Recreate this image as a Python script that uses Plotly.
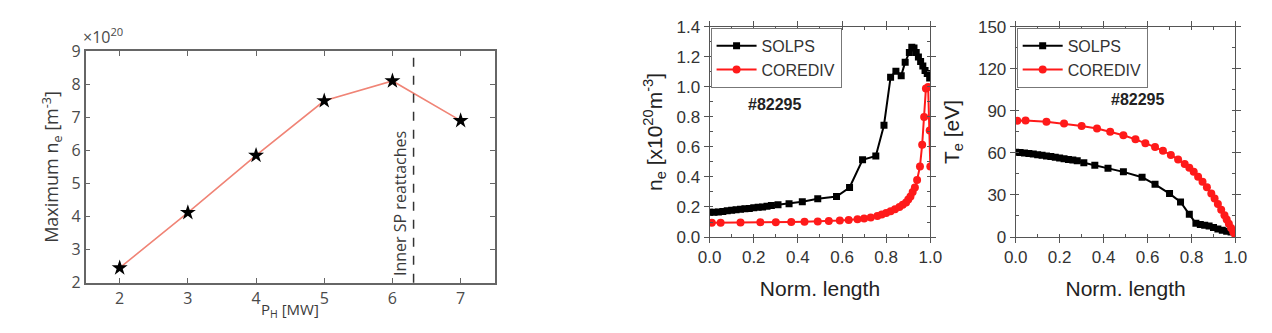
import plotly.graph_objects as go

# ---------------- data ----------------
# Left panel: maximum n_e vs heating power
ph_mw = [2, 3, 4, 5, 6, 7]
max_ne = [2.45, 4.12, 5.85, 7.5, 8.1, 6.9]
reattach_x = 6.31

# Middle panel: n_e along divertor leg
solps_ne_x = [0.0, 0.02, 0.04, 0.06, 0.08, 0.10, 0.12, 0.14, 0.16, 0.18, 0.20, 0.22,
              0.24, 0.26, 0.28, 0.31, 0.36, 0.42, 0.49, 0.575, 0.634, 0.693, 0.753,
              0.79, 0.82, 0.844, 0.868, 0.886, 0.905, 0.916, 0.926, 0.936, 0.946,
              0.956, 0.966, 0.976, 0.986, 0.997]
solps_ne_y = [0.165, 0.165, 0.167, 0.17, 0.175, 0.178, 0.182, 0.185, 0.188, 0.19, 0.195,
              0.198, 0.2, 0.205, 0.21, 0.215, 0.222, 0.235, 0.255, 0.27, 0.33, 0.515,
              0.54, 0.745, 1.065, 1.105, 1.075, 1.165, 1.23, 1.265, 1.26, 1.23, 1.2,
              1.17, 1.14, 1.11, 1.09, 1.06]
corediv_ne_x = [0.01, 0.05, 0.14, 0.23, 0.30, 0.37, 0.43, 0.49, 0.54, 0.59, 0.63, 0.67,
                0.70, 0.73, 0.76, 0.78, 0.80, 0.82, 0.84, 0.86, 0.875, 0.89, 0.90, 0.91,
                0.92, 0.93, 0.94, 0.953, 0.963, 0.972, 0.98, 0.99, 0.997, 1.0]
corediv_ne_y = [0.095, 0.095, 0.097, 0.098, 0.099, 0.1, 0.102, 0.104, 0.107, 0.11, 0.114,
                0.118, 0.124, 0.13, 0.14, 0.15, 0.16, 0.172, 0.185, 0.2, 0.215, 0.23,
                0.25, 0.27, 0.3, 0.33, 0.38, 0.47, 0.615, 0.8, 0.99, 1.0, 0.71, 0.47]

# Right panel: T_e along divertor leg
solps_te_x = [0.0, 0.02, 0.04, 0.06, 0.08, 0.10, 0.12, 0.14, 0.16, 0.18, 0.20, 0.22,
              0.24, 0.26, 0.28, 0.31, 0.36, 0.42, 0.49, 0.575, 0.634, 0.70, 0.75,
              0.79, 0.82, 0.84, 0.86, 0.88, 0.90, 0.92, 0.94, 0.96, 0.98, 1.0]
solps_te_y = [60.5, 60.3, 60.0, 59.6, 59.2, 58.8, 58.3, 57.9, 57.4, 56.9, 56.4, 55.9,
              55.4, 54.9, 54.4, 53.0, 51.3, 49.0, 46.5, 42.7, 37.6, 31.0, 25.0,
              16.2, 9.8, 9.0, 8.4, 7.8, 6.8, 5.8, 4.8, 4.2, 3.6, 0.8]
corediv_te_x = [0.007, 0.045, 0.14, 0.22, 0.30, 0.37, 0.43, 0.49, 0.545, 0.59, 0.634,
                0.67, 0.706, 0.739, 0.769, 0.79, 0.81, 0.83, 0.85, 0.87, 0.89, 0.905,
                0.92, 0.935, 0.95, 0.96, 0.97, 0.98, 0.99, 1.0]
corediv_te_y = [83.0, 83.2, 82.3, 81.0, 79.2, 77.4, 75.2, 72.6, 69.7, 67.0, 64.2,
                61.5, 58.6, 55.3, 52.2, 49.5, 46.5, 43.0, 39.5, 35.5, 31.0, 27.5,
                23.5, 19.5, 15.5, 12.5, 9.5, 6.5, 3.5, 0.8]

left_yticks = [2, 3, 4, 5, 6, 7, 8, 9]
ne_ticks = [0.0, 0.2, 0.4, 0.6, 0.8, 1.0, 1.2, 1.4]
te_ticks = [0, 30, 60, 90, 120, 150]
norm_ticks = [0.0, 0.2, 0.4, 0.6, 0.8, 1.0]

W, H = 1272, 333


def px_x(p):
    return p / W


def px_y(p):
    return 1 - p / H


fig = go.Figure()

# ---------------- left panel ----------------
fig.add_trace(go.Scatter(
    x=ph_mw, y=max_ne, mode="lines+markers",
    line=dict(color="#f08476", width=1.6),
    marker=dict(symbol="star", size=12, color="black"),
    xaxis="x", yaxis="y", showlegend=False))

# ---------------- middle panel ----------------
fig.add_trace(go.Scatter(
    x=solps_ne_x, y=solps_ne_y, mode="lines+markers", name="SOLPS",
    line=dict(color="black", width=2), marker=dict(symbol="square", size=7, color="black"),
    xaxis="x2", yaxis="y2", legend="legend"))
fig.add_trace(go.Scatter(
    x=corediv_ne_x, y=corediv_ne_y, mode="lines+markers", name="COREDIV",
    line=dict(color="#ff1a1a", width=2), marker=dict(symbol="circle", size=8, color="#ff1a1a"),
    xaxis="x2", yaxis="y2", legend="legend"))

# ---------------- right panel ----------------
fig.add_trace(go.Scatter(
    x=solps_te_x, y=solps_te_y, mode="lines+markers", name="SOLPS",
    line=dict(color="black", width=2), marker=dict(symbol="square", size=7, color="black"),
    xaxis="x3", yaxis="y3", legend="legend2"))
fig.add_trace(go.Scatter(
    x=corediv_te_x, y=corediv_te_y, mode="lines+markers", name="COREDIV",
    line=dict(color="#ff1a1a", width=2), marker=dict(symbol="circle", size=8, color="#ff1a1a"),
    xaxis="x3", yaxis="y3", legend="legend2"))

lfam = "Open Sans, DejaVu Sans, sans-serif"
left_font = dict(family=lfam, size=16, color="#4a4a4a")
arial = "Liberation Sans, Arial, sans-serif"

common_left = dict(showline=True, linecolor="#666", linewidth=1.5, mirror="ticks",
                   ticks="inside", ticklen=5, tickcolor="#666", showgrid=False,
                   zeroline=False, tickfont=left_font)

common_mid = dict(showline=True, linecolor="#555", linewidth=1, mirror="ticks",
                  ticks="outside", ticklen=5, tickcolor="#555", showgrid=False,
                  zeroline=False, tickfont=dict(family=arial, size=17, color="#333"))

fig.update_layout(
    width=W, height=H, margin=dict(l=0, r=0, t=0, b=0),
    paper_bgcolor="white", plot_bgcolor="white",
    xaxis=dict(domain=[px_x(75), px_x(492)], range=[1.5, 7.5], tickvals=ph_mw,
               anchor="y", ticklabelstandoff=0, **common_left),
    yaxis=dict(domain=[px_y(291), px_y(43)], range=[2, 9], tickvals=left_yticks,
               anchor="x", **common_left,
               title=dict(text="Maximum n<sub>e</sub> [m<sup>-3</sup>]",
                          font=dict(family=lfam, size=18, color="#3a3a3a"), standoff=8)),
    xaxis2=dict(domain=[px_x(711), px_x(936)], range=[0, 1.0], tickvals=norm_ticks,
                tickformat=".1f", anchor="y2", **common_mid,
                minor=dict(dtick=0.1, ticks="inside", ticklen=3, tickcolor="#555"),
                title=dict(text="Norm. length", font=dict(family=arial, size=21, color="#222"),
                           standoff=14)),
    yaxis2=dict(domain=[px_y(242), px_y(17)], range=[0, 1.4], tickvals=ne_ticks,
                tickformat=".1f", anchor="x2", **common_mid,
                minor=dict(dtick=0.1, ticks="inside", ticklen=3, tickcolor="#555"),
                title=dict(text="n<sub>e</sub> [x10<sup>20</sup>m<sup>-3</sup>]",
                           font=dict(family=arial, size=21, color="#222"), standoff=8)),
    xaxis3=dict(domain=[px_x(1023), px_x(1247)], range=[0, 1.0], tickvals=norm_ticks,
                tickformat=".1f", anchor="y3", **common_mid,
                minor=dict(dtick=0.1, ticks="inside", ticklen=3, tickcolor="#555"),
                title=dict(text="Norm. length", font=dict(family=arial, size=21, color="#222"),
                           standoff=14)),
    yaxis3=dict(domain=[px_y(242), px_y(17)], range=[0, 150], tickvals=te_ticks,
                anchor="x3", **common_mid,
                minor=dict(dtick=15, ticks="inside", ticklen=3, tickcolor="#555"),
                title=dict(text="T<sub>e</sub> [eV]",
                           font=dict(family=arial, size=21, color="#222"), standoff=12)),
    legend=dict(x=px_x(712), y=px_y(18), xanchor="left", yanchor="top",
                bgcolor="white", bordercolor="#777", borderwidth=1,
                font=dict(family=arial, size=16, color="#333"),
                tracegroupgap=0, itemwidth=40),
    legend2=dict(x=px_x(1024), y=px_y(18), xanchor="left", yanchor="top",
                 bgcolor="white", bordercolor="#777", borderwidth=1,
                 font=dict(family=arial, size=16, color="#333"),
                 tracegroupgap=0, itemwidth=40),
    showlegend=True,
)

fig.add_shape(type="line", xref="x", yref="y domain", x0=reattach_x, x1=reattach_x,
              y0=0, y1=1, line=dict(color="#333", width=1.5, dash="dash"))

fig.add_annotation(x=6.12, y=4.4, xref="x", yref="y", text="Inner SP reattaches",
                   textangle=-90, showarrow=False,
                   font=dict(family=lfam, size=16, color="#3a3a3a"))

# left x-axis title as a positioned annotation
fig.add_annotation(x=0.5, y=0, xref="x domain", yref="paper",
                   text="P<sub>H</sub> [MW]", showarrow=False, xanchor="center",
                   yanchor="bottom", borderpad=0,
                   font=dict(family=lfam, size=15, color="#3a3a3a"))

fig.add_annotation(x=px_x(70), y=px_y(42), xref="paper", yref="paper",
                   text="×10<sup>20</sup>", showarrow=False, xanchor="left", yanchor="bottom",
                   font=dict(family=lfam, size=16, color="#4a4a4a"))

fig.add_annotation(x=0.295, y=0.88, xref="x2 domain", yref="y2", text="<b>#82295</b>",
                   showarrow=False, xanchor="center", yanchor="middle",
                   font=dict(family=arial, size=16, color="#222"))
fig.add_annotation(x=0.555, y=98, xref="x3 domain", yref="y3", text="<b>#82295</b>",
                   showarrow=False, xanchor="center", yanchor="middle",
                   font=dict(family=arial, size=16, color="#222"))

fig.write_html("out.html")
